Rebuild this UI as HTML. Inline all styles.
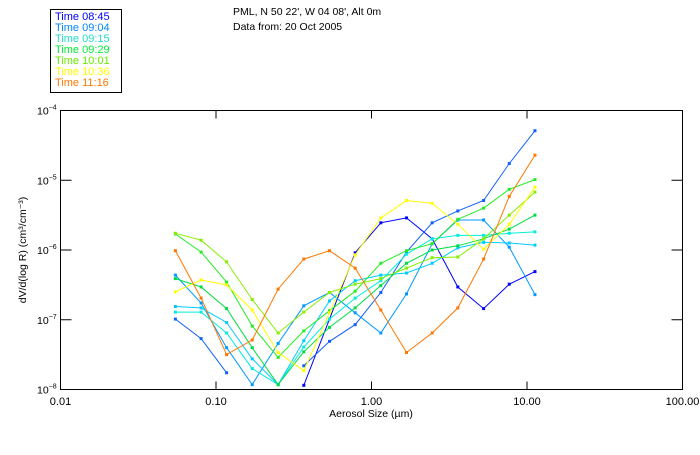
<!DOCTYPE html>
<html><head><meta charset="utf-8"><style>
body{margin:0;background:#fff;width:700px;height:450px;overflow:hidden}
svg text{font-family:"Liberation Sans","DejaVu Sans",sans-serif}
</style></head><body>
<svg id="chart" width="700" height="450" xmlns="http://www.w3.org/2000/svg">
<rect x="50.5" y="9.5" width="71" height="83" fill="#fff" stroke="#000" stroke-width="1"/>
<text x="233" y="15" font-size="10.5" fill="#000">PML, N 50 22', W 04 08', Alt 0m</text>
<text x="233" y="30" font-size="10.5" fill="#000">Data from: 20 Oct 2005</text>
<g id="legend"></g>
<rect x="60.5" y="110.5" width="622" height="279" fill="none" stroke="#000" stroke-width="1"/>
<g id="axes"></g>
<g id="series"></g>
<text x="371" y="417" font-size="10.5" text-anchor="middle">Aerosol Size (µm)</text>
<text transform="translate(26,250) rotate(-90)" font-size="10.5" text-anchor="middle">dV/d(log R) (cm³/cm⁻³)</text>
</svg>
<script>
const sizes = [0.0548,0.0802,0.117,0.171,0.251,0.367,0.537,0.785,1.148,1.68,2.455,3.59,5.26,7.69,11.25];
const xTicks = [0.01,0.1,1,10,100];
const xTickLabels = ["0.01","0.10","1.00","10.00","100.00"];
const yTickExps = [-4,-5,-6,-7,-8];
const legendLabels = ["Time 08:45","Time 09:04","Time 09:15","Time 09:29","Time 10:01","Time 10:36","Time 11:16"];
const legendColors = ["#0000ff","#0088ff","#22ddcc","#00ee33","#66ee00","#ffff00","#ff7700"];
// log10 of dV/dlogR per series
const sA = [null,null,null,null,null,-7.94,-6.99,-6.04,-5.61,-5.54,-5.84,-6.53,-6.84,-6.49,-6.31];
const sB = [-6.99,-7.27,-7.76,null,null,-7.66,-7.31,-7.07,-6.61,-6.03,-5.61,-5.44,-5.29,-4.76,-4.29];
const sC = [-6.36,-6.76,-7.40,-7.93,-7.34,-6.80,-6.61,-6.90,-7.19,-6.63,-5.91,-5.57,-5.57,-5.96,-6.64];
const sD = [-6.81,-6.83,-7.04,-7.56,-7.93,-7.30,-6.73,-6.44,-6.36,-6.33,-6.19,-5.97,-5.89,-5.90,-5.93];
const sE = [-6.89,-6.89,-7.19,-7.70,-7.93,-7.39,-6.99,-6.69,-6.44,-6.06,-5.84,-5.79,-5.79,-5.76,-5.74];
const sG1 = [-5.77,-6.03,-6.46,-7.09,-7.54,-7.16,-6.87,-6.59,-6.19,-6.01,-5.91,-5.56,-5.40,-5.13,-4.99];
const sG2 = [-6.41,-6.53,-6.84,-7.40,-7.93,-7.46,-7.11,-6.83,-6.51,-6.19,-6.00,-5.94,-5.84,-5.70,-5.50];
const sYG = [-5.76,-5.86,-6.17,-6.71,-7.19,-6.89,-6.61,-6.49,-6.41,-6.26,-6.11,-6.10,-5.84,-5.50,-5.17];
const sY = [-6.60,-6.43,-6.50,-6.86,-7.47,-7.73,-6.90,-6.07,-5.54,-5.29,-5.33,-5.63,-5.99,-5.63,-5.10];
const sO = [-6.01,-6.69,-7.50,-7.29,-6.56,-6.13,-6.01,-6.26,-6.86,-7.47,-7.19,-6.83,-6.13,-5.23,-4.64];
const seriesList = [sA,sB,sC,sD,sE,sG1,sG2,sYG,sY,sO];
const seriesColors = ["#0000ff","#1060ff","#0099ff","#00ccff","#00eedd","#22ee22","#00dd44","#88ee00","#ffff00","#ff7700"];

const NS="http://www.w3.org/2000/svg";
const X0=60.5,X1=682.5,Y0=389.5,Y1=110.5;
function xScale(v){return X0+(Math.log10(v)+2)/4*(X1-X0);}
function yScale(e){return Y0-(e+8)/4*(Y0-Y1);}
function mk(tag,attrs,parent){const el=document.createElementNS(NS,tag);for(const k in attrs)el.setAttribute(k,attrs[k]);parent.appendChild(el);return el;}

const axes=document.getElementById('axes');
xTicks.forEach((t,i)=>{
  const x=xScale(t);
  if(i>0&&i<xTicks.length-1){
    const a=mk('line',{x1:x,x2:x,y1:Y0,y2:Y0-8,stroke:'#000'},axes);
    
    
    const b=mk('line',{x1:x,x2:x,y1:Y1,y2:Y1+8,stroke:'#000'},axes);
    
    
  }
  const tx=mk('text',{x:x,y:405,'font-size':'11','text-anchor':'middle'},axes);
  tx.textContent=xTickLabels[i];
  
  
});
yTickExps.forEach((e,i)=>{
  const y=yScale(e);
  if(i>0&&i<yTickExps.length-1){
    const a=mk('line',{x1:X0,x2:X0+11,y1:y,y2:y,stroke:'#000'},axes);
    
    
    const b=mk('line',{x1:X1,x2:X1-11,y1:y,y2:y,stroke:'#000'},axes);
    
    
  }
  const tx=mk('text',{x:37,y:y+4,'font-size':'10.5'},axes);
  tx.textContent='10';
  
  
  const sp=mk('tspan',{dy:-5,'font-size':'7'},tx);
  sp.textContent='−'+(-e);
});

const lg=document.getElementById('legend');
legendLabels.forEach((l,i)=>{
  const t=mk('text',{x:55,y:20+i*11,'font-size':'11',fill:legendColors[i]},lg);
  t.textContent=l;
  
  
});

const sg=document.getElementById('series');
seriesList.forEach((s,si)=>{
  const g=mk('g',{},sg);
  
  
  let seg=[];
  const flush=()=>{if(seg.length>1){mk('polyline',{points:seg.join(' '),fill:'none',stroke:seriesColors[si],'stroke-width':1},g);}seg=[];};
  s.forEach((v,i)=>{
    if(v===null){flush();return;}
    const x=xScale(sizes[i]),y=yScale(v);
    seg.push(x.toFixed(1)+','+y.toFixed(1));
  });
  flush();
  s.forEach((v,i)=>{
    if(v===null)return;
    const p=mk('rect',{x:xScale(sizes[i])-1.5,y:yScale(v)-1.5,width:3,height:3,fill:seriesColors[si]},g);
    
    
  });
});
</script>
</body></html>
